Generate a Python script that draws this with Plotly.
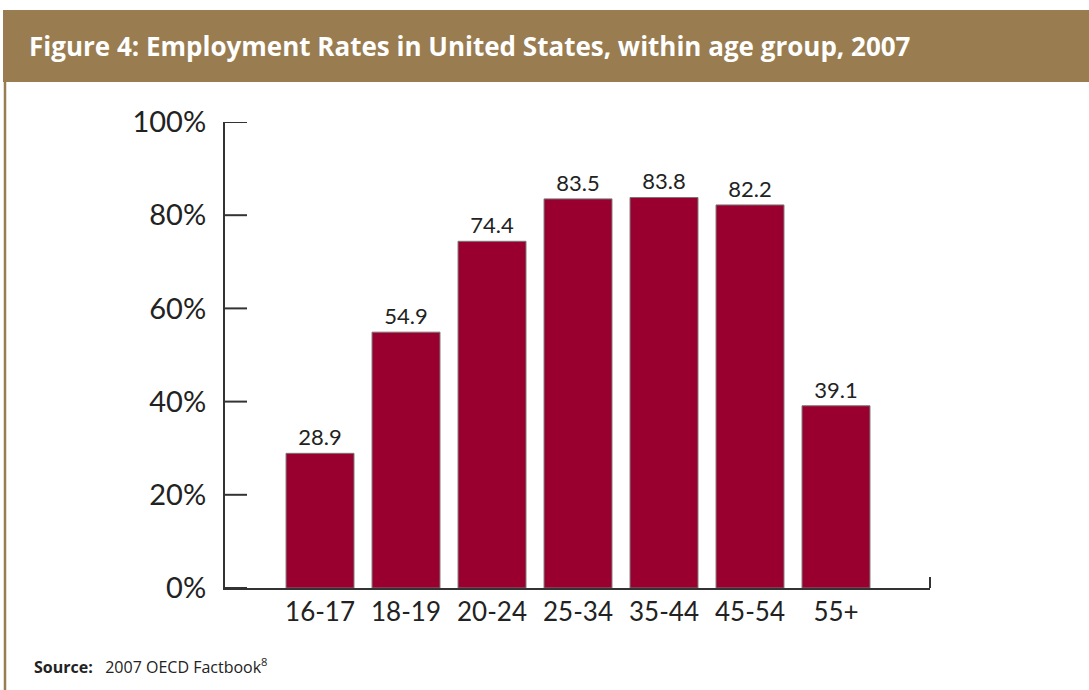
import plotly.graph_objects as go

# Employment rates by age group, United States, 2007 (percent)
age_groups = ["16-17", "18-19", "20-24", "25-34", "35-44", "45-54", "55+"]
employment_rate = [28.9, 54.9, 74.4, 83.5, 83.8, 82.2, 39.1]
y_tick_values = [0, 20, 40, 60, 80, 100]
y_tick_labels = ["0%", "20%", "40%", "60%", "80%", "100%"]

title_text = "Figure 4: Employment Rates in United States, within age group, 2007"
source_text = "<b>Source:</b>   2007 OECD Factbook<sup>8</sup>"

BAR = "#990030"
BRAND = "#997C50"
AXIS = "#333333"
TICK_FONT = "Lato, Open Sans, sans-serif"

W, H = 1089, 690
L, R, T, B = 225, 159, 122, 102
pw, ph = W - L - R, H - T - B


def px_x(x):
    return (x - L) / pw


def px_y(y):
    return (H - B - y) / ph


fig = go.Figure()
fig.add_trace(go.Bar(
    x=list(range(len(age_groups))),
    y=employment_rate,
    marker=dict(color=BAR, line=dict(color="#777777", width=1)),
    text=[f"{v:.1f}" for v in employment_rate],
    textposition="outside",
    textfont=dict(family=TICK_FONT, size=22, color="#222222"),
    cliponaxis=False,
    hoverinfo="skip",
))

# short value-axis ticks pointing into the plot
tick_shapes = [
    dict(type="line", xref="paper", yref="y",
         x0=0, x1=22 / pw, y0=v, y1=v,
         line=dict(color=AXIS, width=2))
    for v in y_tick_values
]

fig.update_layout(
    width=W, height=H,
    margin=dict(l=L, r=R, t=T, b=B),
    paper_bgcolor="white",
    plot_bgcolor="white",
    showlegend=False,
    bargap=0.21,
    xaxis=dict(
        range=[-1.105, 7.093],
        tickmode="array",
        tickvals=list(range(len(age_groups))),
        ticktext=age_groups,
        showline=True, linecolor=AXIS, linewidth=2,
        showgrid=False, zeroline=False, ticks="",
        tickfont=dict(family=TICK_FONT, size=26, color="#222222"),
        ticklabelstandoff=0,
    ),
    yaxis=dict(
        range=[0, 100],
        tickmode="array",
        tickvals=y_tick_values,
        ticktext=y_tick_labels,
        showline=True, linecolor=AXIS, linewidth=2,
        showgrid=False, zeroline=False, ticks="",
        tickfont=dict(family=TICK_FONT, size=29, color="#222222"),
        ticklabelstandoff=11,
    ),
    shapes=[
        # header band
        dict(type="rect", xref="paper", yref="paper",
             x0=px_x(3), x1=px_x(W + 2), y0=px_y(82), y1=px_y(10),
             fillcolor=BRAND, line=dict(width=0), layer="below"),
        # left frame rule
        dict(type="line", xref="paper", yref="paper",
             x0=px_x(5), x1=px_x(5), y0=px_y(82), y1=px_y(H + 2),
             line=dict(color=BRAND, width=2.5)),
        # end tick on the category axis
        dict(type="line", xref="paper", yref="paper",
             x0=1, x1=1, y0=0, y1=px_y(577),
             line=dict(color=AXIS, width=2)),
    ] + tick_shapes,
    annotations=[
        dict(text=f"<b>{title_text}</b>", xref="paper", yref="paper",
             x=px_x(27), y=px_y(46), xanchor="left", yanchor="middle",
             showarrow=False,
             font=dict(family="Open Sans, sans-serif", size=26, color="white")),
        dict(text=source_text, xref="paper", yref="paper",
             x=px_x(32), y=px_y(666), xanchor="left", yanchor="middle",
             showarrow=False,
             font=dict(family="Open Sans, sans-serif", size=16, color="#222222")),
    ],
)

fig.write_html("out.html")
